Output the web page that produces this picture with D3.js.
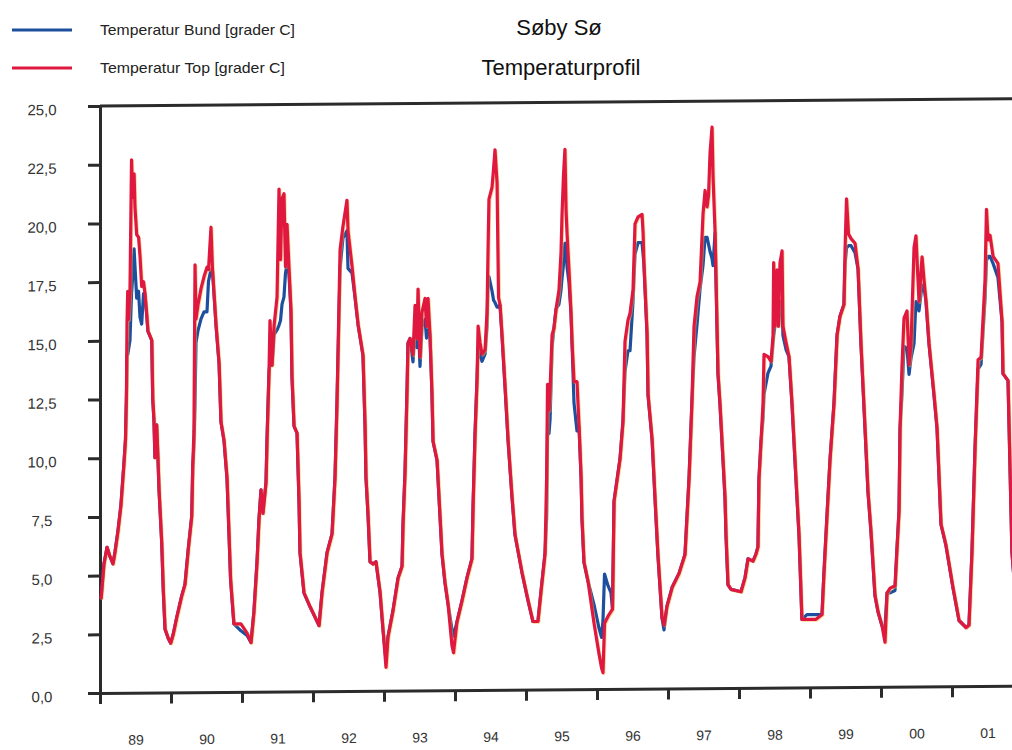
<!DOCTYPE html>
<html>
<head>
<meta charset="utf-8">
<script src="https://cdn.jsdelivr.net/npm/d3@7"></script>
<style>
  html, body { margin: 0; padding: 0; background: #fff; }
  svg { display: block; }
  text { font-family: "Liberation Sans", Arial, sans-serif; }
</style>
</head>
<body>
<svg id="chart" width="1012" height="750"></svg>
<script>
// Søby Sø – temperature at the surface (Top) and at the bottom (Bund), 1989–2001
const sampleYears = [
  1989.015,1989.056,1989.099,1989.141,1989.183,1989.211,1989.253,1989.295,1989.338,1989.359,
  1989.373,1989.380,1989.390,1989.401,1989.422,1989.444,1989.460,1989.480,1989.492,1989.517,
  1989.543,1989.563,1989.587,1989.613,1989.633,1989.658,1989.675,1989.729,1989.743,1989.760,
  1989.774,1989.798,1989.816,1989.832,1989.869,1989.892,1989.916,1989.962,1989.996,1990.033,
  1990.081,1990.150,1990.197,1990.243,1990.292,1990.306,1990.323,1990.338,1990.352,1990.380,
  1990.423,1990.465,1990.507,1990.528,1990.563,1990.584,1990.635,1990.677,1990.704,1990.747,
  1990.789,1990.817,1990.839,1990.886,1990.985,1991.071,1991.127,1991.168,1991.211,1991.240,
  1991.268,1991.295,1991.338,1991.352,1991.380,1991.394,1991.423,1991.452,1991.493,1991.521,
  1991.542,1991.564,1991.591,1991.612,1991.634,1991.661,1991.690,1991.704,1991.733,1991.775,
  1991.803,1991.817,1991.873,1991.959,1992.085,1992.127,1992.198,1992.268,1992.310,1992.338,
  1992.381,1992.422,1992.478,1992.493,1992.549,1992.591,1992.635,1992.704,1992.733,1992.746,
  1992.775,1992.803,1992.845,1992.887,1992.944,1992.986,1993.028,1993.056,1993.126,1993.198,
  1993.254,1993.268,1993.296,1993.325,1993.338,1993.367,1993.408,1993.437,1993.465,1993.479,
  1993.507,1993.535,1993.578,1993.599,1993.620,1993.648,1993.675,1993.691,1993.747,1993.789,
  1993.817,1993.858,1993.901,1993.957,1993.979,1994.027,1994.098,1994.170,1994.239,1994.255,
  1994.282,1994.310,1994.325,1994.352,1994.380,1994.423,1994.451,1994.465,1994.478,1994.521,
  1994.543,1994.563,1994.592,1994.613,1994.634,1994.662,1994.705,1994.748,1994.803,1994.845,
  1994.943,1995.028,1995.098,1995.168,1995.212,1995.268,1995.290,1995.303,1995.324,1995.339,
  1995.367,1995.394,1995.423,1995.464,1995.493,1995.507,1995.528,1995.548,1995.564,1995.578,
  1995.606,1995.634,1995.648,1995.676,1995.718,1995.747,1995.776,1995.788,1995.817,1995.873,
  1995.958,1996.028,1996.064,1996.084,1996.106,1996.155,1996.197,1996.218,1996.240,1996.324,
  1996.366,1996.394,1996.436,1996.465,1996.507,1996.535,1996.578,1996.634,1996.649,1996.661,
  1996.705,1996.719,1996.776,1996.817,1996.858,1996.916,1996.944,1996.985,1997.057,1997.155,
  1997.239,1997.297,1997.337,1997.366,1997.409,1997.451,1997.493,1997.522,1997.550,1997.571,
  1997.592,1997.620,1997.634,1997.663,1997.690,1997.704,1997.732,1997.775,1997.803,1997.817,
  1997.845,1997.888,1998.028,1998.085,1998.127,1998.197,1998.239,1998.267,1998.281,1998.310,
  1998.338,1998.352,1998.408,1998.451,1998.479,1998.488,1998.506,1998.536,1998.556,1998.577,
  1998.606,1998.619,1998.662,1998.704,1998.746,1998.802,1998.845,1998.886,1998.957,1999.084,
  1999.169,1999.197,1999.239,1999.282,1999.338,1999.381,1999.422,1999.478,1999.493,1999.514,
  1999.542,1999.578,1999.634,1999.677,1999.718,1999.775,1999.817,1999.859,1999.915,1999.958,
  2000.014,2000.056,2000.085,2000.128,2000.197,2000.222,2000.254,2000.268,2000.296,2000.324,
  2000.366,2000.395,2000.423,2000.465,2000.492,2000.535,2000.578,2000.606,2000.634,2000.676,
  2000.747,2000.789,2000.845,2000.915,2001.014,2001.099,2001.198,2001.239,2001.281,2001.325,
  2001.367,2001.409,2001.465,2001.485,2001.507,2001.535,2001.578,2001.647,2001.705,2001.718,
  2001.789,2001.817,2001.844,2001.901
];

// Temperatur Top [grader C]
const topTemp = [
  4.0,5.5,6.2,5.8,5.5,6.0,6.9,8.0,9.8,10.8,
  13.0,15.7,17.1,15.9,17.1,22.7,21.1,22.1,20.7,19.5,
  19.4,18.6,17.3,17.5,17.0,16.1,15.4,15.0,12.5,11.6,
  10.0,11.4,10.0,8.6,6.4,4.3,2.7,2.3,2.1,2.5,
  3.2,4.1,4.6,6.1,7.5,9.6,11.1,18.2,15.9,16.5,
  17.2,17.7,18.1,18.0,19.8,18.0,15.6,14.0,11.5,10.7,
  9.1,6.7,4.8,2.9,2.9,2.5,2.1,3.4,5.5,7.4,
  8.6,7.6,8.9,10.7,13.6,15.8,13.9,15.6,16.8,21.4,
  18.4,21.0,21.2,18.1,19.9,18.1,16.2,13.4,11.3,11.0,
  8.1,5.9,4.2,3.6,2.8,4.2,5.9,6.7,9.1,12.3,
  18.8,19.8,20.9,19.6,18.1,16.8,15.6,14.3,11.3,9.1,
  7.5,5.5,5.4,5.5,4.2,2.6,1.0,2.3,3.4,4.8,
  5.3,7.1,9.3,12.9,14.8,15.0,14.3,16.4,15.0,17.1,
  14.2,16.1,16.7,15.5,16.7,15.1,12.7,10.6,9.8,7.4,
  5.8,4.6,3.7,1.9,1.6,2.9,3.8,4.8,5.6,7.9,
  10.9,13.2,15.5,14.8,14.3,14.5,16.1,18.7,20.9,21.4,
  22.2,23.0,21.6,16.7,16.4,15.1,12.9,10.6,8.2,6.6,
  5.0,3.8,2.9,2.9,4.2,5.8,9.0,13.0,11.9,12.8,
  15.1,15.4,16.2,17.0,18.6,20.2,21.9,23.0,20.4,19.4,
  17.8,16.0,14.8,13.1,13.1,11.2,9.0,7.3,5.4,4.6,
  2.8,1.5,0.9,0.7,2.8,3.1,3.3,3.4,8.0,9.8,
  11.4,14.8,15.7,16.0,17.0,19.8,20.1,20.2,19.4,18.1,
  15.1,12.5,10.6,8.1,5.7,3.0,2.7,3.5,4.3,4.9,
  5.7,9.0,12.2,15.4,16.7,17.3,20.2,21.2,20.5,21.0,
  22.8,23.9,21.8,19.4,15.4,13.4,12.1,9.7,8.1,6.5,
  4.4,4.2,4.1,4.7,5.5,5.4,5.7,6.0,8.9,10.5,
  12.1,14.2,14.1,13.9,15.0,18.1,15.4,17.8,15.4,18.1,
  18.6,15.4,14.7,14.1,12.1,8.9,6.5,2.9,2.9,2.9,
  3.1,4.9,7.3,9.7,12.1,15.0,15.8,16.3,18.6,20.8,
  19.3,19.1,18.9,17.8,14.6,11.0,8.3,6.6,3.9,3.2,
  2.6,1.9,4.0,4.2,4.3,5.7,7.5,11.0,13.7,15.7,
  16.0,13.7,14.6,18.7,19.2,16.4,18.3,17.3,16.4,14.6,
  12.4,11.0,6.9,6.0,4.2,2.8,2.5,2.6,5.7,10.2,
  13.9,14.0,17.3,20.3,19.0,19.2,18.3,18.0,15.5,13.3,
  13.0,9.3,5.7,3.5
];

// Temperatur Bund [grader C]
const bundTemp = [
  4.0,5.5,6.2,5.8,5.5,6.0,6.9,8.0,9.8,10.8,
  12.5,14.4,14.4,14.6,15.0,17.0,17.7,18.9,18.2,16.8,
  17.1,16.0,15.7,17.0,17.0,16.1,15.4,15.0,12.5,11.6,
  10.0,11.4,10.0,8.6,6.4,4.3,2.7,2.3,2.1,2.5,
  3.2,4.1,4.6,6.1,7.5,9.6,10.5,12.3,14.9,15.4,
  15.9,16.2,16.2,17.5,18.0,18.0,15.6,14.0,11.5,10.7,
  9.1,6.7,4.8,2.9,2.6,2.4,2.1,3.4,5.5,7.4,
  8.6,7.6,8.9,10.7,13.6,14.0,13.9,15.2,15.4,15.6,
  15.8,16.5,16.8,17.8,18.2,17.8,16.2,13.4,11.3,11.0,
  8.1,5.9,4.2,3.6,2.8,4.2,5.9,6.7,9.1,12.3,
  18.0,19.3,19.6,18.0,17.8,16.8,15.6,14.3,11.3,9.1,
  7.5,5.5,5.4,5.5,4.2,2.6,1.3,2.3,3.4,4.8,
  5.3,7.1,9.3,12.9,14.8,15.0,14.0,15.5,14.6,16.0,
  13.8,15.5,15.8,15.0,16.0,15.1,12.7,10.6,9.8,7.4,
  5.8,4.6,3.7,2.6,2.3,2.9,3.8,4.8,5.6,7.9,
  10.9,13.2,14.6,14.3,14.0,14.3,15.5,17.4,17.6,17.0,
  16.6,16.5,16.3,16.3,16.4,15.1,12.9,10.6,8.2,6.6,
  5.0,3.8,2.9,2.9,4.2,5.8,7.3,10.9,10.9,11.5,
  14.6,15.4,16.2,16.4,17.0,17.5,18.1,19.0,19.0,18.0,
  17.3,16.0,14.8,12.2,11.0,11.2,9.0,7.3,5.4,4.6,
  3.6,2.6,2.2,2.9,4.9,4.4,4.1,3.4,8.0,9.8,
  11.4,13.5,14.4,14.4,16.5,18.5,19.0,19.0,18.5,18.1,
  15.1,12.5,10.6,8.1,5.7,3.0,2.5,3.5,4.3,4.9,
  5.7,9.0,12.2,14.1,15.5,17.0,18.0,19.2,19.2,18.9,
  18.6,18.3,18.0,19.4,15.4,13.4,12.1,9.7,8.1,6.5,
  4.4,4.2,4.1,4.7,5.5,5.4,5.7,6.0,8.9,10.5,
  11.5,12.5,13.4,13.7,14.7,15.0,15.4,15.8,15.4,16.2,
  16.5,15.0,14.4,14.1,12.1,8.9,6.5,2.9,3.1,3.1,
  3.1,4.9,7.3,9.7,12.1,15.0,15.8,16.3,18.0,18.7,
  18.8,18.8,18.5,17.8,14.6,11.0,8.3,6.6,3.9,3.2,
  2.6,2.5,4.0,4.0,4.1,5.7,7.5,11.0,12.5,14.5,
  14.4,13.3,14.0,14.6,16.4,16.0,17.1,17.0,16.4,14.6,
  12.4,11.0,6.9,6.0,4.2,2.8,2.5,2.6,5.7,10.2,
  13.5,13.7,16.5,18.1,18.3,18.3,18.0,17.4,15.5,13.3,
  13.0,9.3,5.7,3.5
];

const yTickValues = [0, 2.5, 5, 7.5, 10, 12.5, 15, 17.5, 20, 22.5, 25];
const yearStarts = [1989,1990,1991,1992,1993,1994,1995,1996,1997,1998,1999,2000,2001];
const yearLabels = ["89","90","91","92","93","94","95","96","97","98","99","00","01"];

const seriesNames = ["Temperatur Bund [grader C]", "Temperatur Top [grader C]"];
const seriesColors = ["#1d4f9e", "#e0183f"];
const titleLines = ["Søby Sø", "Temperaturprofil"];

const svg = d3.select("#chart");
const axisColor = "#2b2b2b";

const x = d3.scaleLinear().domain([1989, 2002]).range([100, 1023]);
const y = d3.scaleLinear().domain([0, 25]).range([693, 106]);

const da = d3.formatLocale({decimal: ",", thousands: ".", grouping: [3], currency: ["", " kr"]});
const fmt1 = da.format(".1f");

// plot area leans slightly upward to the right, as on the printed sheet
const plot = svg.append("g")
  .attr("transform", "translate(100,693) skewY(-0.45) translate(-100,-693)");

// frame line at the top
plot.append("line")
  .attr("x1", x(1989)).attr("x2", x(2002))
  .attr("y1", y(25)).attr("y2", y(25))
  .attr("stroke", axisColor).attr("stroke-width", 3);

// y axis
const yAxis = plot.append("g")
  .attr("transform", `translate(${x(1989)},0)`)
  .call(d3.axisLeft(y).tickValues(yTickValues).tickSize(12).tickSizeOuter(0).tickFormat(fmt1));
yAxis.select(".domain").attr("stroke", axisColor).attr("stroke-width", 3);
yAxis.selectAll(".tick line").attr("stroke", axisColor).attr("stroke-width", 3);
yAxis.selectAll(".tick text")
  .attr("x", -58).attr("dy", "0.55em")
  .attr("text-anchor", "middle")
  .attr("fill", "#333").style("font-size", "15px")
  .style("font-family", "'Liberation Sans', Arial, sans-serif");

// x axis: year boundaries as ticks
const xAxis = plot.append("g")
  .attr("transform", `translate(0,${y(0)})`)
  .call(d3.axisBottom(x).tickValues(yearStarts).tickSize(11).tickSizeOuter(0).tickFormat(""));
xAxis.select(".domain").attr("stroke", axisColor).attr("stroke-width", 3);
xAxis.selectAll(".tick line").attr("stroke", axisColor).attr("stroke-width", 3);

// year labels centred within each year
const xLabels = plot.append("g")
  .attr("transform", `translate(0,${y(0)})`)
  .call(d3.axisBottom(x).tickValues(yearStarts.map(d => d + 0.5)).tickSize(0)
    .tickFormat((d, i) => yearLabels[i]));
xLabels.select(".domain").remove();
xLabels.selectAll(".tick text")
  .attr("y", 42).attr("dy", "0.71em")
  .attr("fill", "#333").style("font-size", "14px")
  .style("font-family", "'Liberation Sans', Arial, sans-serif");

// series
const rows = sampleYears.map((t, i) => ({t, top: topTemp[i], bund: bundTemp[i]}));
const lineBund = d3.line().x(d => x(d.t)).y(d => y(d.bund));
const lineTop = d3.line().x(d => x(d.t)).y(d => y(d.top));

plot.append("path").datum(rows)
  .attr("d", lineBund).attr("fill", "none")
  .attr("stroke", seriesColors[0]).attr("stroke-width", 3.2)
  .attr("stroke-linejoin", "round");

// warm edge under the red trace
plot.append("path").datum(rows)
  .attr("d", lineTop).attr("fill", "none")
  .attr("transform", "translate(0.9,0.9)")
  .attr("stroke", "#f3b23a").attr("stroke-width", 3).attr("opacity", 0.55)
  .attr("stroke-linejoin", "round");

plot.append("path").datum(rows)
  .attr("d", lineTop).attr("fill", "none")
  .attr("stroke", seriesColors[1]).attr("stroke-width", 3.2)
  .attr("stroke-linejoin", "round");

// legend
const legendY = [30, 68];
seriesNames.forEach((name, i) => {
  svg.append("line")
    .attr("x1", 12).attr("x2", 72)
    .attr("y1", legendY[i]).attr("y2", legendY[i])
    .attr("stroke", seriesColors[i]).attr("stroke-width", 3);
  svg.append("text")
    .attr("x", 100).attr("y", legendY[i] + 5)
    .attr("fill", "#222").style("font-size", "15px")
    .attr("textLength", i === 0 ? 195 : 185).attr("lengthAdjust", "spacingAndGlyphs")
    .text(name);
});

// titles
svg.append("text")
  .attr("x", 559).attr("y", 35).attr("text-anchor", "middle")
  .attr("fill", "#111").style("font-size", "22px")
  .text(titleLines[0]);
svg.append("text")
  .attr("x", 561).attr("y", 75).attr("text-anchor", "middle")
  .attr("fill", "#111").style("font-size", "22px")
  .text(titleLines[1]);
</script>
</body>
</html>
